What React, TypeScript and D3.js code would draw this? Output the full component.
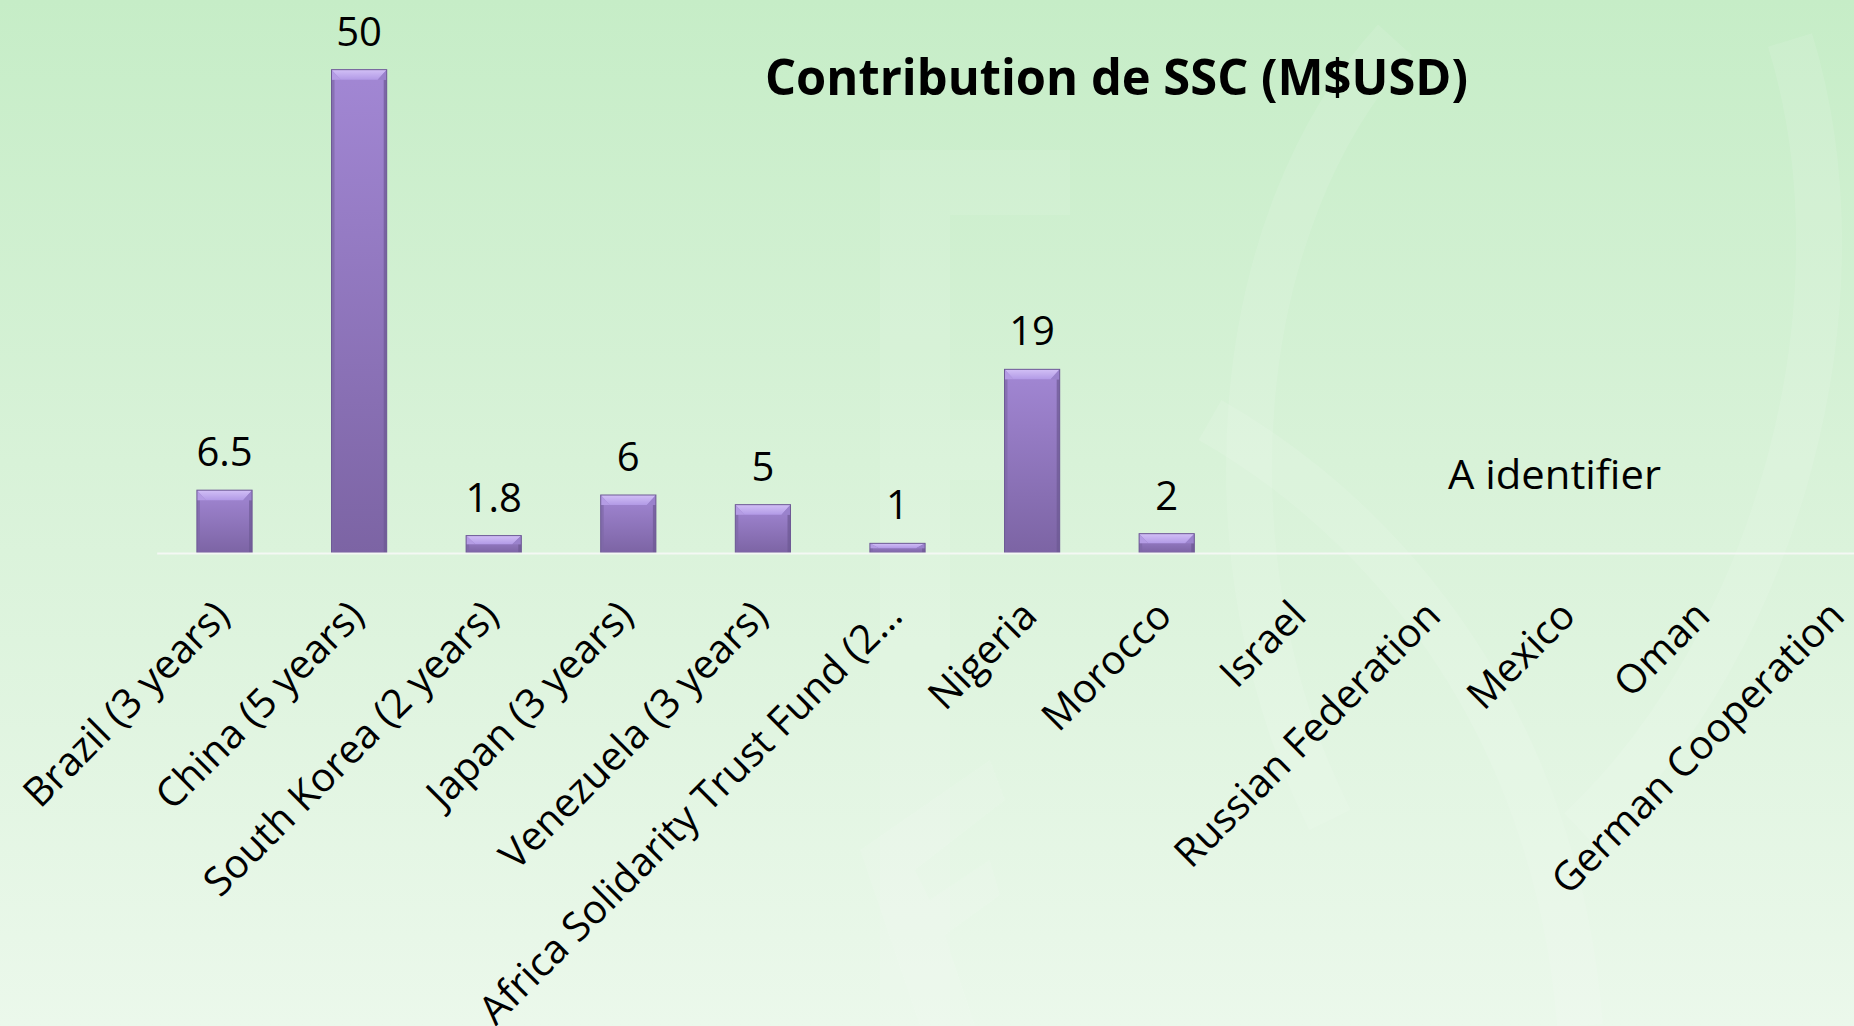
import React from "react";
import * as d3 from "d3";

const categories = [
  "Brazil (3 years)",
  "China (5 years)",
  "South Korea (2 years)",
  "Japan (3 years)",
  "Venezuela (3 years)",
  "Africa Solidarity Trust Fund (2…",
  "Nigeria",
  "Morocco",
  "Israel",
  "Russian Federation",
  "Mexico",
  "Oman",
  "German Cooperation",
];
const values: (number | null)[] = [6.5, 50, 1.8, 6, 5, 1, 19, 2, null, null, null, null, null];
const valueLabels = ["6.5", "50", "1.8", "6", "5", "1", "19", "2"];
const title = "Contribution de SSC (M$USD)";
const note = "A identifier";

const W = 1854;
const H = 1026;
const FONT = "'Open Sans', 'Noto Sans', sans-serif";

export default function App() {
  const x = d3
    .scaleBand<string>()
    .domain(categories)
    .range([157.2, 1907])
    .paddingInner(0.59)
    .paddingOuter(0.295);
  const y = d3.scaleLinear().domain([0, 60]).range([553, -27]);
  const bw = x.bandwidth();

  return (
    <svg
      width={W}
      height={H}
      viewBox={`0 0 ${W} ${H}`}
      style={{ position: "absolute", left: 0, top: 0, display: "block" }}
    >
      <defs>
        <linearGradient id="bg" x1="0" y1="0" x2="0" y2="1">
          <stop offset="0" stopColor="#c6edc7" />
          <stop offset="0.45" stopColor="#d8f2d8" />
          <stop offset="1" stopColor="#ebf8eb" />
        </linearGradient>
        <linearGradient id="barFill" x1="0" y1="0" x2="0" y2="1">
          <stop offset="0" stopColor="#a287d4" />
          <stop offset="1" stopColor="#7c64a4" />
        </linearGradient>
        <linearGradient id="bevTop" x1="0" y1="0" x2="0" y2="1">
          <stop offset="0" stopColor="#d2c0f6" />
          <stop offset="1" stopColor="#b29ae6" />
        </linearGradient>
      </defs>
      <rect x={0} y={0} width={W} height={H} fill="url(#bg)" />
      {/* faint watermark */}
      <g fill="none" stroke="#ffffff" strokeOpacity={0.1} strokeWidth={46}>
        <path d="M 1395 40 C 1230 220 1200 560 1330 820" />
        <path d="M 1790 40 C 1870 300 1780 640 1580 830" />
        <path d="M 1580 1026 C 1560 760 1420 540 1210 420" />
      </g>
      <g fill="#ffffff" fillOpacity={0.09}>
        <path d="M 880 150 L 1070 150 L 1070 215 L 950 215 L 950 420 L 1050 420 L 1050 480 L 950 480 L 950 1026 L 880 1026 Z" />
        <path d="M 860 850 L 990 760 L 1005 800 L 915 870 L 930 900 L 990 860 L 1000 895 L 945 935 L 975 1026 L 920 1026 Z" />
      </g>

      <text
        x={765}
        y={95}
        fontFamily={FONT}
        fontWeight={700}
        fontSize={50}
        textLength={703}
        lengthAdjust="spacingAndGlyphs"
        fill="#000"
      >
        {title}
      </text>

      {categories.map((c, i) => {
        const v = values[i];
        if (v == null) return null;
        const x0 = x(c) as number;
        const y0 = y(v);
        const h = y(0) - y0;
        const bev = Math.min(10, h / 2);
        const side = Math.min(9, bw / 4);
        const sideW = 3;
        return (
          <g key={c}>
            <rect x={x0} y={y0} width={bw} height={h} fill="url(#barFill)" />
            <path
              d={`M${x0},${y0 + bev}L${x0 + sideW},${y0 + bev}L${x0 + sideW},${y0 + h}L${x0},${y0 + h}Z`}
              fill="#7d68a6"
              opacity={0.7}
            />
            <path
              d={`M${x0 + bw - sideW},${y0 + bev}L${x0 + bw},${y0 + bev}L${x0 + bw},${y0 + h}L${x0 + bw - sideW},${y0 + h}Z`}
              fill="#6c5893"
              opacity={0.7}
            />
            <path
              d={`M${x0},${y0}L${x0 + bw},${y0}L${x0 + bw - side},${y0 + bev}L${x0 + side},${y0 + bev}Z`}
              fill="url(#bevTop)"
            />
            <path
              d={`M${x0},${y0}L${x0 + side},${y0 + bev}L${x0 + sideW},${y0 + bev}L${x0},${y0 + bev}Z`}
              fill="#b49ce4"
            />
            <path
              d={`M${x0 + bw},${y0}L${x0 + bw - side},${y0 + bev}L${x0 + bw},${y0 + bev}Z`}
              fill="#9a82cc"
            />
            <rect
              x={x0}
              y={y0}
              width={bw}
              height={h}
              fill="none"
              stroke="#6e5a95"
              strokeWidth={1}
            />
            <text
              x={x0 + bw / 2}
              y={y0 - 24}
              textAnchor="middle"
              fontFamily={FONT}
              fontSize={40}
              fill="#000"
            >
              {valueLabels[i]}
            </text>
          </g>
        );
      })}

      <line x1={157.2} x2={W} y1={y(0) + 0.5} y2={y(0) + 0.5} stroke="#f4f8f4" strokeWidth={2} />

      {categories.map((c) => {
        const cx = (x(c) as number) + bw / 2;
        return (
          <text
            key={"t" + c}
            transform={`translate(${cx + 7},618) rotate(-45)`}
            textAnchor="end"
            fontFamily={FONT}
            fontSize={40}
            fill="#000"
          >
            {c}
          </text>
        );
      })}

      <text
        x={1448}
        y={489}
        fontFamily={FONT}
        fontSize={40}
        textLength={213}
        lengthAdjust="spacingAndGlyphs"
        fill="#000"
      >
        {note}
      </text>
    </svg>
  );
}
